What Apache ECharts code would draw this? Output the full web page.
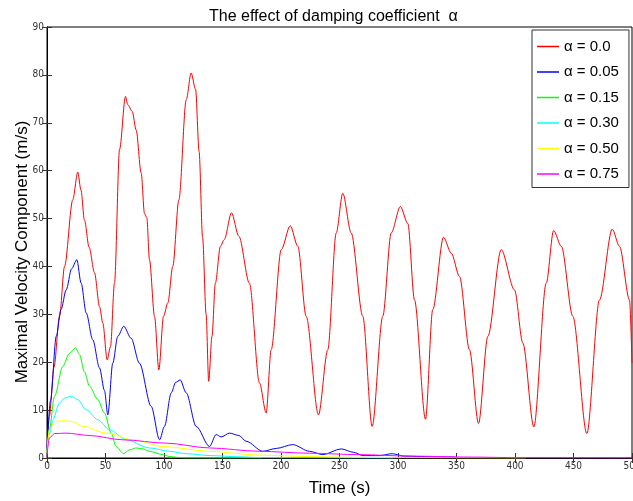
<!DOCTYPE html>
<html>
<head>
<meta charset="utf-8">
<script src="https://cdn.jsdelivr.net/npm/echarts@6/dist/echarts.min.js"></script>
<style>
  html, body { margin: 0; padding: 0; background: #fff; }
  #main { width: 633px; height: 501px; }
</style>
</head>
<body>
<div id="main"></div>
<script>
// time (s) / velocity (m/s) pairs
var alpha000 = [[0,1.5],[2,8.7],[6,19],[10.7,29.6],[15,40],[22,53.9],[26.3,59.7],[29,56],[32,49.7],[36,44],[40.6,38.7],[44.9,31.6],[47.7,28.2],[51.4,20.5],[54.3,23.3],[57.7,36.6],[62,64.4],[67.1,75.5],[69,73.8],[72.8,72.4],[76.2,68.5],[80.5,59.5],[83.3,51.1],[85.3,50.2],[87.6,41.4],[91.9,29.6],[95.6,18.4],[99.6,29.6],[103.3,32.4],[107.5,40],[112.7,53.9],[119,74.8],[123.2,80.4],[127,77],[130,64],[133,46],[136,30],[138.2,16],[141,25.4],[143.9,36.5],[148.2,44.2],[151.5,45.6],[157.7,51.2],[164,46.3],[173,36.5],[181.6,15.7],[187.3,9.4],[191.6,22.6],[200.2,43.5],[207.9,48.5],[214.4,44.2],[221.5,29.6],[232,9],[240,22.6],[247.2,47],[252.8,55.3],[260,47],[269.9,29.6],[277.9,6.6],[287,29.6],[294.2,47],[302,52.5],[308.4,49],[314.1,33],[323.5,8.1],[329.7,31],[338.9,46.1],[345.5,42.8],[352.6,37.9],[361.1,22.6],[368.8,7.2],[376.8,25.4],[388.2,43.5],[399.6,35.1],[406.7,24],[416.1,6.5],[426.7,36.5],[433,47.5],[439.6,44.2],[449.4,29.6],[461.4,5.1],[472.2,33],[483.1,47.8],[489.3,44.2],[497.9,33],[500,19.8]];
var alpha005 = [[0,1.7],[3,12],[7.9,25.4],[12,31],[16.4,35.1],[21,39.5],[25.5,41.4],[29.2,36.5],[33.5,30.3],[39.1,24.7],[44.9,18.8],[49.1,14.1],[52,9],[56.2,19.8],[60.5,25.4],[65.6,27.5],[71.9,25],[79,19.8],[89,10.8],[96.2,3.8],[100.4,6.6],[106.2,13.6],[110,15.8],[113.8,16.3],[119,13.6],[127.5,6.6],[138.9,2.4],[144.6,4.9],[148.9,4.4],[156,5.2],[164,4.7],[170.2,3.5],[184.5,1.4],[196,2],[210,2.8],[224.4,1.4],[235.7,0.7],[251.4,1.9],[262,1.2],[270,0.5],[284,0.5],[295,0.9],[305,0.4],[320,0.3],[335,0.2],[349,0.2]];
var alpha015 = [[0,1],[2,6],[6.4,12.9],[13.5,19.1],[19,21.8],[24.4,23],[27.8,21.6],[32,18],[36.3,15],[43.4,12.2],[49.1,9.4],[54.9,5.2],[59.1,2.4],[65.4,0.9],[70.5,1.7],[76.2,2.1],[82,1.9],[87.6,1.4],[99,0.7],[105,0.3],[117.5,0],[183,0]];
var alpha030 = [[0,1.5],[2,5],[5,8],[10.7,11.5],[15,12.5],[20.7,12.9],[26.3,12.2],[33.5,10.1],[43.4,8],[53.4,5.9],[67.7,3.8],[87.6,2.1],[104.7,1.4],[119,0.9],[140,0.5],[164,0.25],[185,0.05],[296,0]];
var alpha050 = [[0,1],[2.1,5.9],[6.4,7.6],[13.5,7.8],[22,7.6],[30.6,6.6],[50.6,5.2],[73.3,3.8],[99,2.4],[138.9,1.4],[181.6,0.6],[224,0.3],[260,0.15],[300,0.05],[409,0]];
var alpha075 = [[0,0.5],[2.1,4.2],[6.4,5.1],[16.4,5.2],[36.3,4.7],[64.8,3.8],[101.9,3.1],[138.9,2.1],[181.6,1.4],[224.4,1],[267,0.7],[310,0.4],[360,0.2],[409,0.05],[500,0]];

var seriesNames = ['\u03b1 = 0.0', '\u03b1 = 0.05', '\u03b1 = 0.15', '\u03b1 = 0.30', '\u03b1 = 0.50', '\u03b1 = 0.75'];
var seriesData = [alpha000, alpha005, alpha015, alpha030, alpha050, alpha075];
var seriesColors = ['#ff0000', '#0000ff', '#00ff00', '#00ffff', '#ffff00', '#ff00ff'];

var chart = echarts.init(document.getElementById('main'));

var tickFont = "'Liberation Sans Narrow', 'DejaVu Sans Condensed', sans-serif";
var textFont = "'Liberation Sans', Arial, sans-serif";

function makeSeries(i) {
    return {
        name: seriesNames[i],
        type: 'line',
        data: seriesData[i],
        symbol: 'none',
        smooth: 0.3,
        smoothMonotone: 'x',
        lineStyle: { color: seriesColors[i], width: 1 },
        itemStyle: { color: seriesColors[i] },
        z: 2 + i
    };
}

var series = [];
for (var i = 0; i < seriesData.length; i++) {
    series.push(makeSeries(i));
}

var option = {
    animation: false,
    backgroundColor: '#fff',
    title: {
        text: 'The effect of damping coefficient  \u03b1',
        left: 204,
        top: 4,
        textStyle: { fontFamily: textFont, fontSize: 16, fontWeight: 'normal', color: '#000' }
    },
    // y axis title, rotated like the axis name
    graphic: [{
        type: 'text',
        x: 22,
        y: 252,
        rotation: Math.PI / 2,
        style: {
            text: 'Maximal Velocity Component (m/s)',
            font: '17px ' + textFont,
            fill: '#000',
            align: 'center',
            verticalAlign: 'middle'
        }
    }],
    legend: {
        orient: 'vertical',
        left: 532,
        top: 30,
        padding: [9, 10, 6, 5],
        itemGap: 10.5,
        itemWidth: 22,
        itemHeight: 1.5,
        icon: 'rect',
        backgroundColor: '#fff',
        borderColor: '#333',
        borderWidth: 1,
        borderRadius: 0,
        textStyle: { fontFamily: textFont, fontSize: 15, color: '#000' },
        data: seriesNames
    },
    grid: {
        left: 47,
        right: 1,
        top: 27,
        bottom: 43,
        outerBoundsMode: 'none',
        show: true,
        borderColor: '#000',
        borderWidth: 1
    },
    xAxis: [{
        type: 'value',
        min: 0,
        max: 500,
        interval: 50,
        name: 'Time (s)',
        nameLocation: 'middle',
        nameGap: 22,
        nameTextStyle: { fontFamily: textFont, fontSize: 17, color: '#000' },
        axisLine: { lineStyle: { color: '#444', width: 1 } },
        axisTick: { inside: true, length: 5, lineStyle: { color: '#333' } },
        axisLabel: { fontFamily: tickFont, fontSize: 10, color: '#333', margin: 3, alignMaxLabel: 'center', alignMinLabel: 'center' },
        splitLine: { show: false }
    }, {
        type: 'value',
        position: 'top',
        min: 0,
        max: 500,
        interval: 50,
        axisLine: { lineStyle: { color: '#000' } },
        axisTick: { inside: true, length: 5, lineStyle: { color: '#333' } },
        axisLabel: { show: false },
        splitLine: { show: false }
    }],
    yAxis: [{
        type: 'value',
        min: 0,
        max: 90,
        interval: 10,
        axisLine: { show: true, lineStyle: { color: '#333', width: 1 } },
        axisTick: { show: true, inside: true, length: 5, lineStyle: { color: '#333' } },
        axisLabel: { fontFamily: tickFont, fontSize: 10, color: '#333', margin: 3 },
        splitLine: { show: false }
    }, {
        type: 'value',
        position: 'right',
        min: 0,
        max: 90,
        interval: 10,
        axisLine: { show: true, lineStyle: { color: '#000' } },
        axisTick: { show: true, inside: true, length: 5, lineStyle: { color: '#333' } },
        axisLabel: { show: false },
        splitLine: { show: false }
    }],
    series: series
};

chart.setOption(option);
</script>
</body>
</html>
